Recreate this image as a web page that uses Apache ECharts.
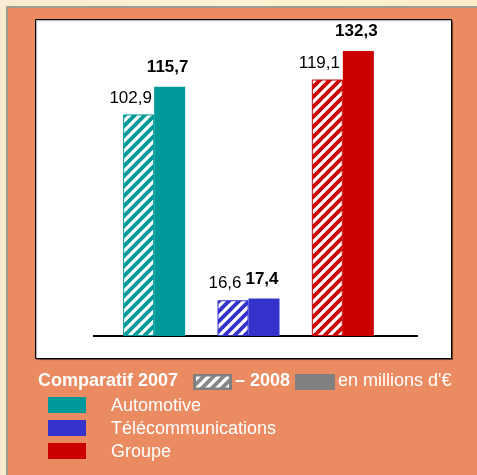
<!DOCTYPE html>
<html>
<head>
<meta charset="utf-8">
<script src="https://cdn.jsdelivr.net/npm/echarts@6/dist/echarts.min.js"></script>
<style>
	html, body {
		margin: 0;
		padding: 0;
	}

	#chart {
		width: 477px;
		height: 475px;
	}
</style>
</head>
<body>
<div id="chart"></div>
<script>
	// catégories
	var categories = ['Automotive', 'Télécommunications', 'Groupe'];
	// valeurs 2007 (hachurées) et 2008 (pleines)
	var v2007 = [102.9, 16.6, 119.1];
	var v2008 = [115.7, 17.4, 132.3];
	// couleurs par catégorie
	var colors = ['#009999', '#3333CC', '#CC0000'];
	var font = 'Arial, "Liberation Sans", sans-serif';

	// motif hachuré
	function hatch(color) {
		var s = 10;
		var c = document.createElement('canvas');
		c.width = s;
		c.height = s;
		var ctx = c.getContext('2d');
		ctx.fillStyle = '#fff';
		ctx.fillRect(0, 0, s, s);
		ctx.strokeStyle = color;
		ctx.lineWidth = 3.8;
		ctx.beginPath();
		ctx.moveTo(-1, s + 1); ctx.lineTo(s + 1, -1);
		ctx.moveTo(-s / 2 - 1, s / 2 + 1); ctx.lineTo(s / 2 + 1, -s / 2 - 1);
		ctx.moveTo(s / 2 - 1, s * 1.5 + 1); ctx.lineTo(s * 1.5 + 1, s / 2 - 1);
		ctx.stroke();
		return { image: c, repeat: 'repeat' };
	}

	function fmt(p) {
		return String(p.value).replace('.', ',');
	}

	var data2007 = v2007.map(function (v, i) {
		return { value: v, itemStyle: { color: hatch(colors[i]), borderColor: colors[i], borderWidth: 1 } };
	});
	var data2008 = v2008.map(function (v, i) {
		return { value: v, itemStyle: { color: colors[i] } };
	});

	var legendItems = [];
	categories.forEach(function (name, i) {
		legendItems.push({
			type: 'rect', z: 1,
			shape: { x: 48, y: 397 + i * 23, width: 38, height: 16 },
			style: { fill: colors[i] }
		});
		legendItems.push({
			type: 'text', z: 1, x: 111, y: 406 + i * 23,
			style: { text: name, fill: '#fff', font: '18px ' + font, verticalAlign: 'middle' }
		});
	});

	var chart = echarts.init(document.getElementById('chart'));
	var option = {
		backgroundColor: {
			type: 'linear', x: 0, y: 0, x2: 1, y2: 0,
			colorStops: [{ offset: 0, color: '#F8EBD2' }, { offset: 0.5, color: '#FEF3D4' }, { offset: 1, color: '#FBEDC8' }]
		},
		animation: false,
		graphic: [
			{ type: 'rect', z: 0, shape: { x: 6, y: 6, width: 480, height: 480 }, style: { fill: '#A09A92' } },
			{ type: 'rect', z: 0, shape: { x: 8, y: 8, width: 480, height: 480 }, style: { fill: '#EB8B62' } },
			{
				type: 'rect', z: 0, shape: { x: 35.5, y: 19.5, width: 416, height: 339 },
				style: { fill: '#fff', stroke: '#000', lineWidth: 1, shadowColor: 'rgba(0,0,0,0.35)', shadowOffsetX: 1, shadowOffsetY: 1, shadowBlur: 1 }
			},
			{ type: 'line', z: 1, shape: { x1: 93, y1: 336, x2: 418, y2: 336 }, style: { stroke: '#000', lineWidth: 2 } },
			{
				type: 'text', z: 1, x: 38, y: 381,
				style: { text: 'Comparatif 2007', fill: '#fff', font: 'bold 18px ' + font, verticalAlign: 'middle' }
			},
			{ type: 'rect', z: 1, shape: { x: 193, y: 374, width: 39, height: 16 }, style: { fill: '#808080' } },
			{ type: 'rect', z: 1, shape: { x: 196, y: 376.5, width: 33, height: 11 }, style: { fill: hatch('#888') } },
			{
				type: 'text', z: 1, x: 235, y: 381,
				style: { text: '– 2008', fill: '#fff', font: 'bold 18px ' + font, verticalAlign: 'middle' }
			},
			{ type: 'rect', z: 1, shape: { x: 295, y: 374, width: 40, height: 16 }, style: { fill: '#808080' } },
			{
				type: 'text', z: 1, x: 338, y: 381,
				style: { text: 'en millions d\'€', fill: '#fff', font: '18px ' + font, verticalAlign: 'middle' }
			}
		].concat(legendItems),
		grid: { left: 107, right: 87, top: 13, bottom: 139 },
		xAxis: {
			type: 'category',
			data: categories,
			axisLine: { show: false },
			axisTick: { show: false },
			axisLabel: { show: false }
		},
		yAxis: {
			type: 'value',
			min: 0,
			max: 150,
			show: false,
			splitLine: { show: false }
		},
		series: [
			{
				name: '2007', type: 'bar', barWidth: 31, barGap: 0, z: 3,
				data: data2007,
				label: {
					show: true, position: 'top', offset: [-8, -3], formatter: fmt,
					color: '#000', fontFamily: font, fontSize: 17
				}
			},
			{
				name: '2008', type: 'bar', barWidth: 31, z: 3,
				data: data2008,
				label: {
					show: true, position: 'top', offset: [-2, -6], formatter: fmt,
					color: '#000', fontFamily: font, fontSize: 17, fontWeight: 'bold'
				}
			}
		]
	};
	chart.setOption(option);
</script>
</body>
</html>
